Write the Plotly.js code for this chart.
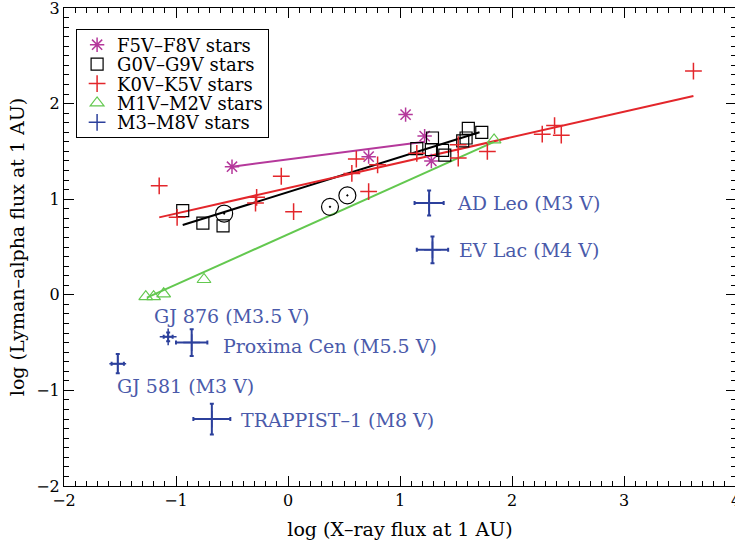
<!DOCTYPE html>
<html>
<head>
<meta charset="utf-8">
<script src="https://cdn.plot.ly/plotly-3.0.1.min.js"></script>
<style>
  html, body { margin: 0; padding: 0; overflow: hidden; background: #fff; }
</style>
</head>
<body>
<div id="chart"></div>
<script>
// log X-ray flux vs log Lyman-alpha flux at 1 AU, by spectral type

// F5V–F8V stars
const fX = [-0.50, 0.72, 1.05, 1.22, 1.28];
const fY = [1.34, 1.445, 1.885, 1.66, 1.40];

// G0V–G9V stars
const gX = [-0.94, -0.76, -0.58, 1.15, 1.29, 1.28, 1.38, 1.40, 1.56, 1.59, 1.61, 1.73];
const gY = [0.88, 0.75, 0.72, 1.53, 1.64, 1.52, 1.51, 1.46, 1.61, 1.64, 1.74, 1.70];

// the Sun at several activity levels
const sunX = [-0.57, 0.375, 0.53];
const sunY = [0.85, 0.92, 1.04];

// K0V–K5V stars
const kX = [-1.15, -0.99, -0.29, -0.28, -0.06, 0.05, 0.57, 0.61, 0.72, 0.80, 1.15, 1.52, 1.52, 1.78, 2.27, 2.38, 2.44, 3.62];
const kY = [1.14, 0.81, 0.96, 1.02, 1.24, 0.87, 1.27, 1.42, 1.08, 1.36, 1.48, 1.57, 1.43, 1.50, 1.68, 1.77, 1.67, 2.34];

// M1V–M2V stars
const mEarlyX = [-1.27, -1.20, -1.11, -0.75, 1.84];
const mEarlyY = [-0.02, -0.02, 0.01, 0.16, 1.62];

// M3–M8V stars with uncertainties
const mLateNames = ['AD Leo (M3 V)', 'EV Lac (M4 V)', 'Proxima Cen (M5.5 V)', 'GJ 876 (M3.5 V)', 'GJ 581 (M3 V)', 'TRAPPIST\u20131 (M8 V)'];
const mLateX = [1.26, 1.29, -0.86, -1.07, -1.52, -0.68];
const mLateY = [0.96, 0.47, -0.50, -0.44, -0.72, -1.30];
const mLateErrX = [0.13, 0.14, 0.14, 0.04, 0.055, 0.165];
const mLateErrY = [0.13, 0.14, 0.14, 0.045, 0.10, 0.16];

// linear fits per spectral class (end points)
const fitFX = [-0.50, 1.22];
const fitFY = [1.34, 1.60];
const fitGX = [-0.94, 1.71];
const fitGY = [0.73, 1.70];
const fitKX = [-1.15, 3.62];
const fitKY = [0.81, 2.08];
const fitMX = [-1.26, 1.84];
const fitMY = [-0.03, 1.60];

const C_F = '#b5389b';
const C_G = '#000000';
const C_K = '#e3262b';
const C_M = '#63c84f';
const C_L = '#2c409c';
const C_LABEL = '#4a5aaa';
const FONT = 'DejaVu Serif, serif';

function fitLine(x, y, color) {
  return { x: x, y: y, mode: 'lines', type: 'scatter', showlegend: false,
           hoverinfo: 'skip', line: { color: color, width: 2 } };
}

const traces = [
  fitLine(fitFX, fitFY, C_F),
  fitLine(fitGX, fitGY, C_G),
  fitLine(fitKX, fitKY, C_K),
  fitLine(fitMX, fitMY, C_M),
  { x: fX, y: fY, type: 'scatter', mode: 'markers', name: 'F5V\u2013F8V stars',
    marker: { symbol: 'asterisk-open', size: 12, color: C_F, line: { color: C_F, width: 1.5 } } },
  { x: gX, y: gY, type: 'scatter', mode: 'markers', name: 'G0V\u2013G9V stars',
    marker: { symbol: 'square-open', size: 12, color: C_G, line: { color: C_G, width: 1.2 } } },
  { x: kX, y: kY, type: 'scatter', mode: 'markers', name: 'K0V\u2013K5V stars',
    marker: { symbol: 'cross-thin-open', size: 12, color: C_K, line: { color: C_K, width: 1.5 } } },
  { x: mEarlyX, y: mEarlyY, type: 'scatter', mode: 'markers', name: 'M1V\u2013M2V stars',
    marker: { symbol: 'triangle-up-open', size: 12, color: C_M, line: { color: C_M, width: 1.2 } } },
  { x: mLateX, y: mLateY, type: 'scatter', mode: 'markers', name: 'M3\u2013M8V stars',
    marker: { symbol: 'cross-thin-open', size: 12, color: C_L, line: { color: C_L, width: 1.5 } },
    error_x: { type: 'data', array: mLateErrX, visible: true, color: C_L, thickness: 2, width: 2 },
    error_y: { type: 'data', array: mLateErrY, visible: true, color: C_L, thickness: 2, width: 2 } },
  { x: sunX, y: sunY, type: 'scatter', mode: 'markers', showlegend: false,
    marker: { symbol: 'circle-open-dot', size: 17, color: '#000', line: { color: '#000', width: 1.2 } } }
];

// label placement relative to each star (pixels)
const labelPlacement = [
  { xshift: 26, yshift: 0 },
  { xshift: 25, yshift: 0 },
  { xshift: 29, yshift: -3 },
  { xshift: -16, yshift: 21 },
  { xshift: -3, yshift: -22 },
  { xshift: 27, yshift: -1 }
];

const annotations = mLateNames.map((name, i) => ({
  x: mLateX[i], y: mLateY[i], xref: 'x', yref: 'y', text: name, showarrow: false,
  xanchor: 'left', yanchor: 'middle',
  xshift: labelPlacement[i].xshift, yshift: labelPlacement[i].yshift,
  font: { family: FONT, size: 19, color: C_LABEL }
}));

function axis(range, titleText, standoff) {
  return {
    range: range, dtick: 1, tick0: 0,
    ticks: 'inside', ticklen: 10, tickwidth: 1, tickcolor: '#000',
    showline: true, linecolor: '#000', linewidth: 1, mirror: 'ticks',
    showgrid: false, zeroline: false, ticklabeloverflow: 'allow',
    tickfont: { family: FONT, size: 16, color: '#000' },
    minor: { dtick: 0.1, ticks: 'inside', ticklen: 5, tickwidth: 1, tickcolor: '#000', showgrid: false },
    title: { text: titleText, font: { family: FONT, size: 19, color: '#000' }, standoff: standoff }
  };
}

const layout = {
  width: 740, height: 546,
  margin: { l: 64, r: 4, t: 8, b: 60 },
  paper_bgcolor: '#fff', plot_bgcolor: '#fff',
  xaxis: axis([-2, 4], 'log (X\u2013ray flux at 1 AU)', 13),
  yaxis: axis([-2, 3], 'log (Lyman\u2013alpha flux at 1 AU)', 6),
  showlegend: true,
  legend: {
    x: 0.018, y: 0.956, xanchor: 'left', yanchor: 'top',
    bgcolor: '#fff', bordercolor: '#000', borderwidth: 1,
    font: { family: FONT, size: 18, color: '#000' },
    tracegroupgap: 0, itemwidth: 30
  },
  annotations: annotations
};

// tighter line spacing for the legend rows
const LEGEND_ROW = 19.4;

Plotly.newPlot('chart', traces, layout, { staticPlot: true, displayModeBar: false }).then(gd => {
  const items = Array.from(gd.querySelectorAll('.legend .traces'));
  if (items.length < 2) return;
  const parse = el => {
    const m = /translate\(\s*([-\d.e]+)[ ,]+([-\d.e]+)\s*\)/.exec(el.getAttribute('transform') || '');
    return m ? [parseFloat(m[1]), parseFloat(m[2])] : [0, 0];
  };
  const p0 = parse(items[0]);
  const p1 = parse(items[1]);
  const oldRow = p1[1] - p0[1];
  const delta = oldRow - LEGEND_ROW;
  items.forEach((el, i) => {
    const p = parse(el);
    el.setAttribute('transform', 'translate(' + p[0] + ',' + (p0[1] - delta / 2 + i * LEGEND_ROW) + ')');
  });
  const bg = gd.querySelector('.legend rect.bg');
  if (bg) {
    const h = parseFloat(bg.getAttribute('height'));
    bg.setAttribute('height', h - delta * items.length);
  }
});
</script>
</body>
</html>
